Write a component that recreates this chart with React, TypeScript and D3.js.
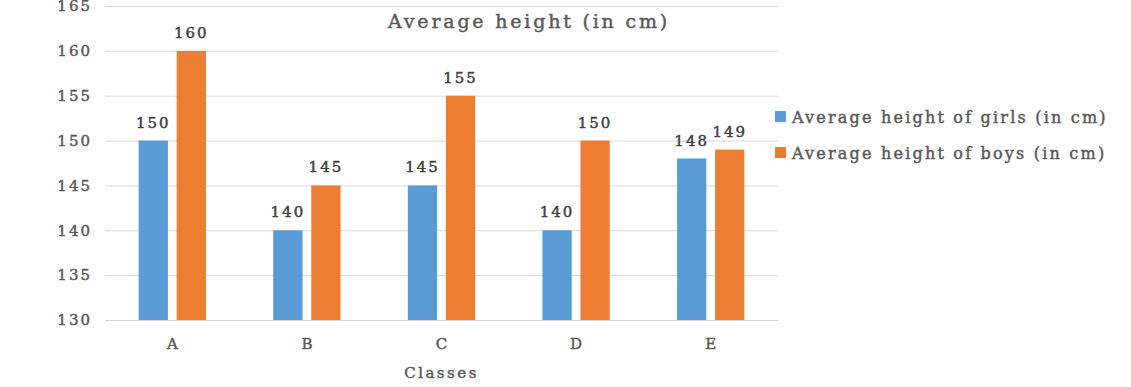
import { useEffect, useRef } from 'react';
import * as d3 from 'd3';

const classes = ['A', 'B', 'C', 'D', 'E'];
const girls = [150, 140, 145, 140, 148];
const boys = [160, 145, 155, 150, 149];
const seriesNames = ['Average height of girls (in cm)', 'Average height of boys (in cm)'];
const seriesColors = ['#5b9bd5', '#ed7d31'];
const yTicks = [130, 135, 140, 145, 150, 155, 160, 165];

const W = 1131;
const H = 387;
const FONT = '"DejaVu Serif", serif';
const TEXT = '#595959';

export default function App() {
  const svgRef = useRef<SVGSVGElement>(null);

  useEffect(() => {
    if (!svgRef.current) return;
    const svg = d3.select(svgRef.current);
    svg.selectAll('*').remove();

    const margin = { top: 6, right: 353, bottom: 67, left: 105 };
    const width = W - margin.left - margin.right;
    const height = H - margin.top - margin.bottom;

    // slightly heavier than regular, like the source's semibold serif
    const heavy = (sel: d3.Selection<any, any, any, any>, color: string) =>
      sel.attr('fill', color)
        .attr('stroke', color)
        .attr('stroke-width', 0.45)
        .attr('font-family', FONT);

    const g = svg.append('g').attr('transform', `translate(${margin.left},${margin.top})`);

    const x0 = d3.scaleBand().domain(classes).range([0, width]).padding(0);
    const x1 = d3.scaleBand()
      .domain(['girls', 'boys'])
      .range([x0.bandwidth() * 0.25, x0.bandwidth() * 0.75])
      .paddingInner(0.23);
    const y = d3.scaleLinear().domain([130, 165]).range([height, 0]);

    // gridlines
    g.append('g')
      .call(d3.axisLeft(y).tickValues(yTicks).tickSize(-width).tickFormat(() => ''))
      .call(a => a.select('.domain').remove())
      .selectAll('line')
      .attr('stroke', '#d9d9d9');

    // y labels
    g.append('g')
      .call(d3.axisLeft(y).tickValues(yTicks).tickSize(0).tickPadding(13))
      .call(a => a.select('.domain').remove())
      .selectAll('text')
      .call(s => heavy(s, TEXT))
      .attr('font-size', 15)
      .attr('letter-spacing', 2);

    // x labels
    g.append('g')
      .attr('transform', `translate(0,${height})`)
      .call(d3.axisBottom(x0).tickSize(0).tickPadding(18))
      .call(a => a.select('.domain').remove())
      .selectAll('text')
      .call(s => heavy(s, TEXT))
      .attr('font-size', 15);

    const rows = classes.map((c, i) => ({ c, vals: [girls[i], boys[i]] }));
    const keys = ['girls', 'boys'];

    const grp = g.selectAll('.grp')
      .data(rows)
      .enter()
      .append('g')
      .attr('transform', d => `translate(${x0(d.c)},0)`);

    grp.selectAll('rect')
      .data(d => d.vals.map((v, k) => ({ v, k })))
      .enter()
      .append('rect')
      .attr('x', d => x1(keys[d.k])!)
      .attr('width', x1.bandwidth())
      .attr('y', d => y(d.v))
      .attr('height', d => height - y(d.v))
      .attr('fill', d => seriesColors[d.k]);

    grp.selectAll('text')
      .data(d => d.vals.map((v, k) => ({ v, k })))
      .enter()
      .append('text')
      .attr('x', d => x1(keys[d.k])! + x1.bandwidth() / 2)
      .attr('y', d => y(d.v) - 13)
      .attr('text-anchor', 'middle')
      .call(s => heavy(s, '#404040'))
      .attr('font-size', 15)
      .attr('letter-spacing', 2)
      .text(d => d.v);

    // title
    svg.append('text')
      .attr('x', 529)
      .attr('y', 28)
      .attr('text-anchor', 'middle')
      .call(s => heavy(s, TEXT))
      .attr('font-size', 19)
      .attr('letter-spacing', 2.8)
      .text('Average height (in cm)');

    // axis title
    svg.append('text')
      .attr('x', margin.left + width / 2)
      .attr('y', 378)
      .attr('text-anchor', 'middle')
      .call(s => heavy(s, TEXT))
      .attr('font-size', 15)
      .attr('letter-spacing', 2.5)
      .text('Classes');

    // legend
    const leg = svg.append('g').attr('transform', 'translate(775,111)');
    seriesNames.forEach((name, i) => {
      const row = leg.append('g').attr('transform', `translate(0,${i * 36})`);
      row.append('rect').attr('width', 11).attr('height', 11).attr('fill', seriesColors[i]);
      row.append('text')
        .attr('x', 17)
        .attr('y', 11.5)
        .call(s => heavy(s, TEXT))
        .attr('font-size', 16)
        .attr('letter-spacing', 2.2)
        .text(name);
    });
  }, []);

  return (
    <div style={{ position: 'absolute', left: 0, top: 0 }}>
      <svg ref={svgRef} width={W} height={H} style={{ display: 'block', background: '#fff' }} />
    </div>
  );
}
